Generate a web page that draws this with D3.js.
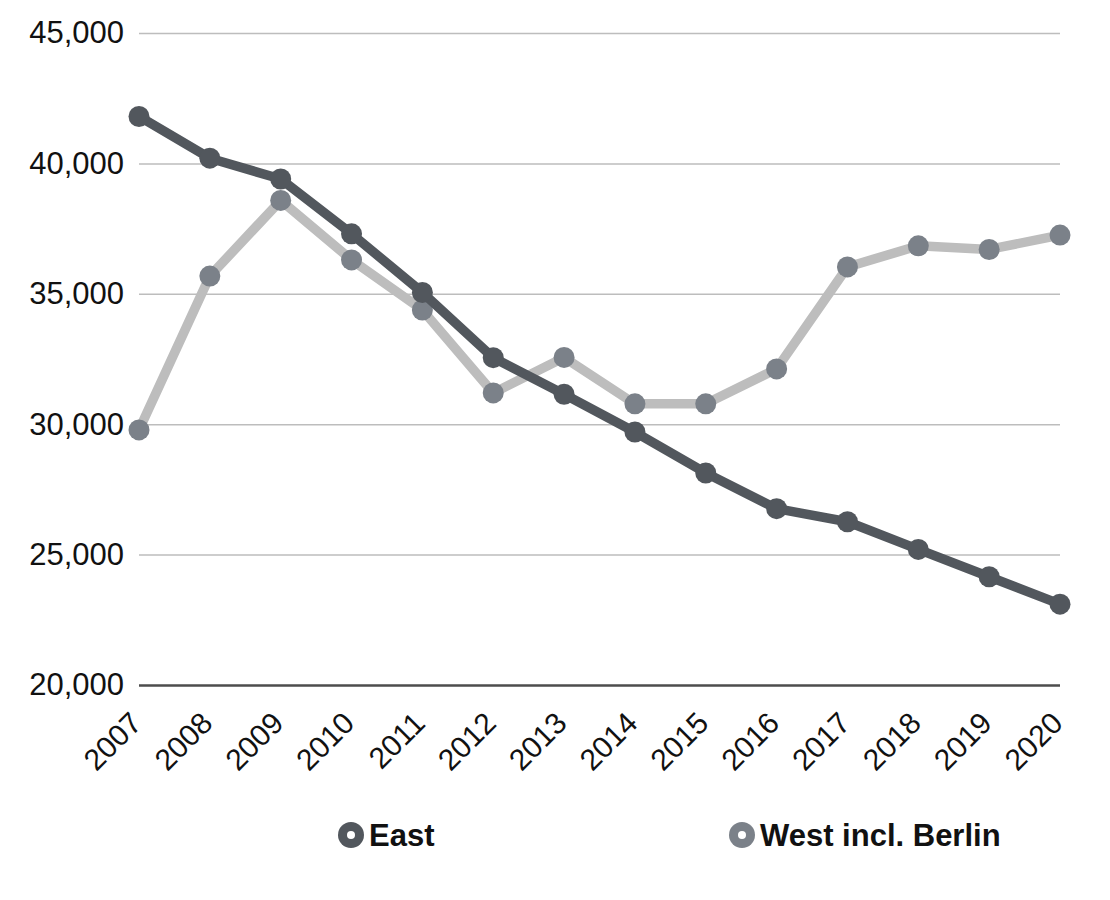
<!DOCTYPE html>
<html>
<head>
<meta charset="utf-8">
<script src="https://cdn.jsdelivr.net/npm/d3@7"></script>
<style>
    body { margin: 0; background: #fff; }
    svg { display: block; font-family: "Liberation Sans", Arial, sans-serif; }
</style>
</head>
<body>
<div class="graph"></div>
<script>
// Data
const years = [2007, 2008, 2009, 2010, 2011, 2012, 2013, 2014, 2015, 2016, 2017, 2018, 2019, 2020];
const eastValues = [41800, 40200, 39400, 37300, 35050, 32550, 31150, 29700, 28130, 26760, 26260, 25200, 24150, 23100];
const westValues = [29780, 35680, 38580, 36300, 34380, 31200, 32560, 30780, 30780, 32120, 36030, 36840, 36700, 37250];
const yTicks = [20000, 25000, 30000, 35000, 40000, 45000];
const seriesNames = ["East", "West incl. Berlin"];

const dimensions = {
    width: 1110,
    height: 900,
    margins: {
        top: 33,
        right: 50,
        bottom: 215,
        left: 139
    }
};
dimensions.boundedWidth = dimensions.width - dimensions.margins.left - dimensions.margins.right;
dimensions.boundedHeight = dimensions.height - dimensions.margins.top - dimensions.margins.bottom;

const colors = {
    eastLine: "#52575d",
    eastPoint: "#52575d",
    westLine: "#bdbdbd",
    westPoint: "#7b8189",
    grid: "#bdbdbd",
    baseline: "#4d4d4d"
};

const wrapper = d3.select(".graph")
    .append("svg")
        .attr("width", dimensions.width)
        .attr("height", dimensions.height);

const bounds = wrapper.append("g")
    .attr("transform", `translate(${dimensions.margins.left},${dimensions.margins.top})`);

const xScale = d3.scalePoint()
    .domain(years)
    .range([0, dimensions.boundedWidth]);

const yScale = d3.scaleLinear()
    .domain([20000, 45000])
    .range([dimensions.boundedHeight, 0]);

// gridlines + y labels
const yAxis = bounds.append("g")
    .call(d3.axisLeft(yScale)
        .tickValues(yTicks)
        .tickSize(-dimensions.boundedWidth)
        .tickPadding(15)
        .tickFormat(d3.format(",")));
yAxis.select(".domain").remove();
yAxis.selectAll(".tick line")
    .attr("stroke", d => d === 20000 ? colors.baseline : colors.grid)
    .attr("stroke-width", d => d === 20000 ? 2.5 : 1.5);
yAxis.selectAll(".tick text")
    .attr("fill", "#111")
    .style("font-size", "31px");

// x labels
const xAxis = bounds.append("g")
    .attr("transform", `translate(0,${dimensions.boundedHeight})`)
    .call(d3.axisBottom(xScale).tickSize(0).tickPadding(0));
xAxis.select(".domain").remove();
xAxis.selectAll(".tick text")
    .attr("fill", "#111")
    .style("font-size", "30px")
    .attr("text-anchor", "end")
    .attr("dy", 0)
    .attr("y", 0)
    .attr("transform", "translate(4,40) rotate(-45)");

const lineGenerator = d3.line()
    .x((d, i) => xScale(years[i]))
    .y(d => yScale(d));

function drawSeries(values, lineColor, pointColor) {
    bounds.append("path")
        .attr("d", lineGenerator(values))
        .attr("fill", "none")
        .attr("stroke", lineColor)
        .attr("stroke-width", 9.5)
        .attr("stroke-linejoin", "round");

    bounds.append("g")
        .selectAll("circle")
        .data(values)
        .join("circle")
            .attr("cx", (d, i) => xScale(years[i]))
            .attr("cy", d => yScale(d))
            .attr("r", 10.5)
            .attr("fill", pointColor);
}

// West drawn first so East sits on top
drawSeries(westValues, colors.westLine, colors.westPoint);
drawSeries(eastValues, colors.eastLine, colors.eastPoint);

// legend
const legendItems = [
    { name: seriesNames[0], color: colors.eastPoint, x: 351 },
    { name: seriesNames[1], color: colors.westPoint, x: 742 }
];
const legend = wrapper.append("g")
    .selectAll("g")
    .data(legendItems)
    .join("g")
        .attr("transform", d => `translate(${d.x},835)`);
legend.append("circle")
    .attr("r", 13)
    .attr("fill", d => d.color);
legend.append("circle")
    .attr("r", 4)
    .attr("fill", "#fff");
legend.append("text")
    .attr("x", 18)
    .attr("y", 11)
    .style("font-size", "31px")
    .style("font-weight", "bold")
    .attr("fill", "#111")
    .text(d => d.name);
</script>
</body>
</html>
